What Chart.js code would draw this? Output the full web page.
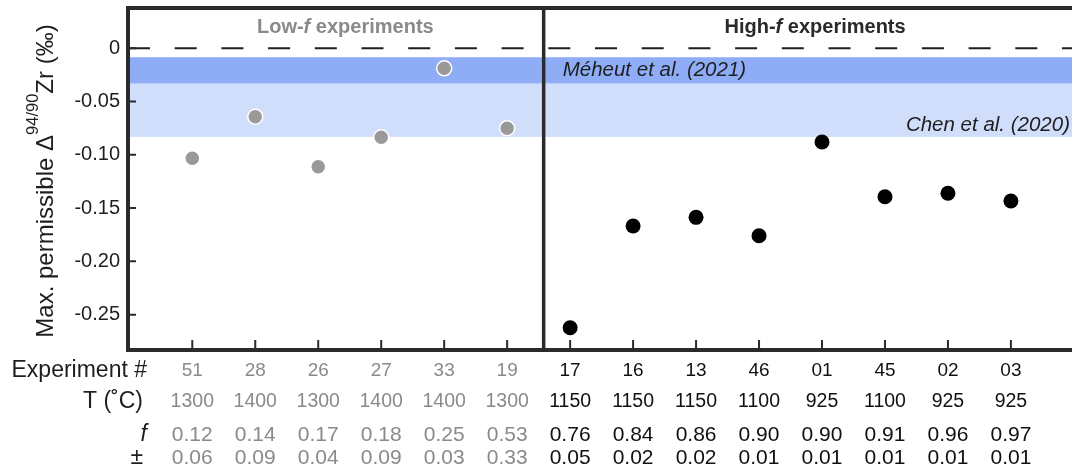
<!DOCTYPE html>
<html><head><meta charset="utf-8">
<script src="https://cdn.jsdelivr.net/npm/chart.js@4"></script>
<style>html,body{margin:0;padding:0;background:#fff;}#wrap{width:1072px;height:473px;}</style>
</head><body><div id="wrap"><canvas id="c" width="1072" height="473"></canvas></div>
<script>
// ---- data ----
const experiments = ['51','28','26','27','33','19','17','16','13','46','01','45','02','03'];
const temps = ['1300','1400','1300','1400','1400','1300','1150','1150','1150','1100','925','1100','925','925'];
const fVals = ['0.12','0.14','0.17','0.18','0.25','0.53','0.76','0.84','0.86','0.90','0.90','0.91','0.96','0.97'];
const fErr = ['0.06','0.09','0.04','0.09','0.03','0.33','0.05','0.02','0.02','0.01','0.01','0.01','0.01','0.01'];
const lowDelta = [-0.1033,-0.0642,-0.1112,-0.0836,-0.0188,-0.0751];
const highDelta = [-0.2623,-0.1668,-0.1587,-0.1759,-0.0880,-0.1393,-0.1361,-0.1434];
const yTicks = [0,-0.05,-0.10,-0.15,-0.20,-0.25];
const yTickLabels = ['0','-0.05','-0.10','-0.15','-0.20','-0.25'];
const meheutBand = [-0.0084,-0.0331];
const chenBand = [-0.0331,-0.0832];
const groupSplit = 6.58;
const X_MIN = -0.021, X_MAX = 14.97, Y_MIN = -0.2832, Y_MAX = 0.0378;

const FONT = '"Liberation Sans", Arial, Helvetica, sans-serif';
const GRAY_TXT = '#8a8a8a', DARK = '#2b2b2b', TXT = '#1e1e1e';

function drawRuns(ctx, runs, x, y, align){
  let total = 0;
  runs.forEach(r => { ctx.font = r.font; r.w = ctx.measureText(r.text).width; total += r.w; });
  let cx = align === 'center' ? x - total/2 : (align === 'right' ? x - total : x);
  ctx.textAlign = 'left';
  runs.forEach(r => { ctx.font = r.font; ctx.fillText(r.text, cx, y + (r.dy||0)); cx += r.w; });
}
function noPad(s){ s.paddingTop = 0; s.paddingBottom = 0; s.paddingLeft = 0; s.paddingRight = 0; }

const decor = {
  id: 'decor',
  beforeDatasetsDraw(chart){
    const {ctx, chartArea: a, scales: {x, y}} = chart;
    ctx.save();
    ctx.fillStyle = '#d0defb';
    let t = y.getPixelForValue(chenBand[0]), b = y.getPixelForValue(chenBand[1]);
    ctx.fillRect(a.left, t, a.right - a.left, b - t);
    ctx.fillStyle = '#8fadf6';
    t = y.getPixelForValue(meheutBand[0]); b = y.getPixelForValue(meheutBand[1]);
    ctx.fillRect(a.left, t, a.right - a.left, b - t);
    ctx.fillStyle = TXT;
    ctx.textBaseline = 'middle';
    ctx.font = 'italic 20.5px ' + FONT;
    ctx.textAlign = 'left';
    ctx.fillText('Méheut et al. (2021)', x.getPixelForValue(groupSplit) + 19, (t + b) / 2);
    const cb = y.getPixelForValue(chenBand[1]);
    ctx.textAlign = 'right';
    ctx.fillText('Chen et al. (2020)', a.right - 2, cb - 12);
    ctx.restore();
  },
  afterDraw(chart){
    const {ctx, chartArea: a, scales: {x, y}} = chart;
    ctx.save();
    ctx.strokeStyle = DARK;
    ctx.lineWidth = 4;
    ctx.beginPath();
    ctx.moveTo(a.right + 5, a.top); ctx.lineTo(a.left, a.top); ctx.lineTo(a.left, a.bottom); ctx.lineTo(a.right + 5, a.bottom);
    ctx.stroke();
    const dx = x.getPixelForValue(groupSplit);
    ctx.lineWidth = 3.5;
    ctx.beginPath(); ctx.moveTo(dx, a.top); ctx.lineTo(dx, a.bottom); ctx.stroke();
    ctx.lineWidth = 2;
    ctx.beginPath();
    yTicks.forEach(v => { const py = y.getPixelForValue(v); ctx.moveTo(a.left, py); ctx.lineTo(a.left + 8, py); });
    experiments.forEach((e, i) => { const px = x.getPixelForValue(i + 1); ctx.moveTo(px, a.bottom); ctx.lineTo(px, a.bottom - 10); });
    ctx.stroke();
    ctx.textBaseline = 'middle';
    ctx.fillStyle = GRAY_TXT;
    drawRuns(ctx, [{text:'Low-', font:'bold 20px '+FONT},{text:'f', font:'italic bold 20px '+FONT},{text:' experiments', font:'bold 20px '+FONT}], x.getPixelForValue(3.43), 27, 'center');
    ctx.fillStyle = '#2a2a2a';
    drawRuns(ctx, [{text:'High-', font:'bold 20px '+FONT},{text:'f', font:'italic bold 20px '+FONT},{text:' experiments', font:'bold 20px '+FONT}], x.getPixelForValue(10.89), 27, 'center');
    ctx.fillStyle = TXT;
    ctx.textAlign = 'right';
    ctx.font = '23px ' + FONT; ctx.fillText('Experiment #', 147, 371);
    ctx.fillText('T (˚C)', 143, 402);
    ctx.font = 'italic 23px ' + FONT; ctx.fillText('f', 147, 435);
    ctx.font = '23px ' + FONT; ctx.fillText('±', 143, 458);
    ctx.textAlign = 'center';
    experiments.forEach((e, i) => {
      const px = x.getPixelForValue(i + 1);
      ctx.fillStyle = i < lowDelta.length ? GRAY_TXT : '#111';
      ctx.font = '19px ' + FONT; ctx.fillText(e, px, 371);
      ctx.font = '19.5px ' + FONT; ctx.fillText(temps[i], px, 402);
      ctx.font = '21px ' + FONT; ctx.fillText(fVals[i], px, 435);
      ctx.fillText(fErr[i], px, 458);
    });
    ctx.translate(53, 181);
    ctx.rotate(-Math.PI / 2);
    ctx.fillStyle = TXT;
    ctx.textBaseline = 'alphabetic';
    drawRuns(ctx, [{text:'Max. permissible Δ', font:'24px '+FONT},{text:'94/90', font:'16.5px '+FONT, dy:-15},{text:'Zr (‰)', font:'24px '+FONT}], 0, 0, 'center');
    ctx.restore();
  }
};

new Chart(document.getElementById('c'), {
  type: 'scatter',
  data: {
    datasets: [
      { type:'line', data:[{x:X_MIN,y:0},{x:X_MAX,y:0}], borderColor:'#1e1e1e', borderWidth:2, borderDash:[22,24.7], pointRadius:0, fill:false },
      { data: lowDelta.map((v,i)=>({x:i+1,y:v})), backgroundColor:'#999999', borderColor:'#ffffff', borderWidth:1.5, pointRadius:7.5 },
      { data: highDelta.map((v,i)=>({x:i+1+lowDelta.length,y:v})), backgroundColor:'#000000', borderColor:'#000000', borderWidth:0, pointRadius:7.5 }
    ]
  },
  options: {
    responsive:false, animation:false, devicePixelRatio:1,
    layout:{autoPadding:false, padding:{top:8,right:0,bottom:0,left:0}},
    plugins:{legend:{display:false}, tooltip:{enabled:false}},
    scales:{
      x:{ type:'linear', min:X_MIN, max:X_MAX, grid:{display:false}, border:{display:false}, ticks:{display:false},
          afterFit(s){ s.height = 123; noPad(s); } },
      y:{ type:'linear', min:Y_MIN, max:Y_MAX, grid:{display:false, drawTicks:false}, border:{display:false},
          afterBuildTicks(s){ s.ticks = yTicks.map(v=>({value:v})); },
          ticks:{ padding:8, color:TXT, font:{family:FONT, size:20}, callback:(v)=>yTickLabels[yTicks.findIndex(t=>Math.abs(t-v)<1e-9)] },
          afterFit(s){ s.width = 128; noPad(s); } }
    }
  },
  plugins:[decor]
});
</script></body></html>
